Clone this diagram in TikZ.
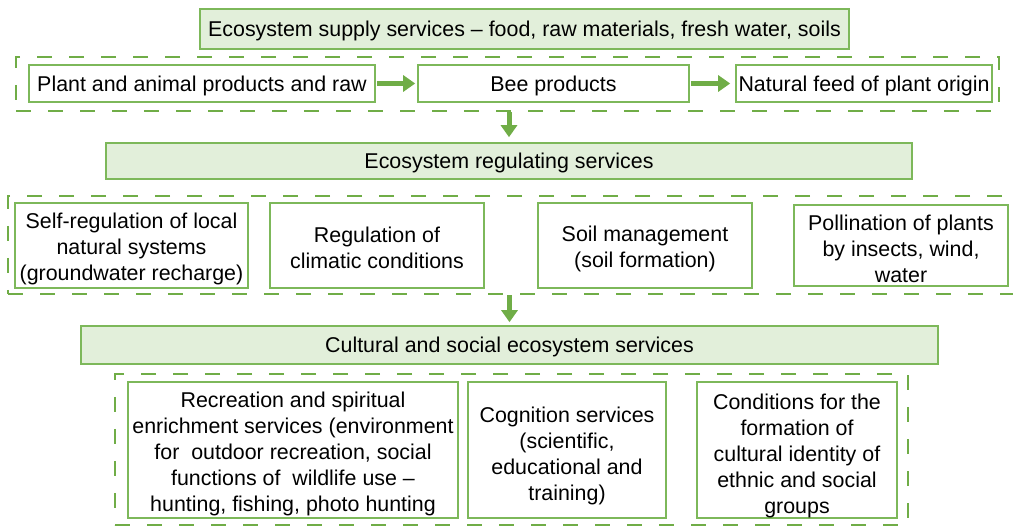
\documentclass[tikz,border=0pt]{standalone}
\usepackage{fontspec}
\setmainfont{Liberation Sans}
\usetikzlibrary{arrows.meta}
\definecolor{grn}{HTML}{70AD47}
\definecolor{grnline}{HTML}{7DB85A}
\definecolor{grnfill}{HTML}{E2EFDA}
\newcommand{\upstrut}[1]{\rule{0pt}{#1}}
\tikzset{
  every node/.style={font=\fontsize{21.4}{26}\selectfont, inner sep=0pt, align=center, text=black},
  hdr/.style={draw=grnline, fill=grnfill, line width=1.6pt},
  wbox/.style={draw=grnline, fill=white, line width=1.6pt},
  grp/.style={draw=grn, line width=2.6pt, dash pattern=on 15pt off 17pt},
  arr/.style={draw=grn, line width=5pt, -{Triangle[length=12pt,width=16pt]}},
}
\begin{document}
\begin{tikzpicture}[x=1pt,y=-1pt]
\useasboundingbox (0,0) rectangle (1013,526);
% supply
\node[hdr, minimum width=649pt, minimum height=40pt] (h1) at (524.5,29) {\upstrut{19.6pt}Ecosystem supply services -- food, raw materials, fresh water, soils};
\node[grp, minimum width=983pt, minimum height=54pt] (g1) at (507.5,84) {};
\node[wbox, minimum width=346pt, minimum height=37pt] (a) at (202,83.5) {\upstrut{19.6pt}Plant and animal products and raw};
\node[wbox, minimum width=271pt, minimum height=37pt] (b) at (553.5,83.5) {\upstrut{19.6pt}Bee products};
\node[wbox, minimum width=256pt, minimum height=37pt] (c) at (864,83.5) {\upstrut{19.6pt}Natural feed of plant origin};
\draw[arr, shorten <=1pt, shorten >=2pt] (a.east) -- (b.west);
\draw[arr, shorten <=1pt, shorten >=5pt] (b.east) -- (c.west);
% regulating
\node[hdr, minimum width=806pt, minimum height=36pt] (h2) at (509,161) {\upstrut{19.6pt}Ecosystem regulating services};
\draw[arr, shorten >=5pt] (g1.south -| h2.north) -- (h2.north);
\node[grp, minimum width=1008pt, minimum height=98pt] (g2) at (512,245) {};
\node[wbox, minimum width=233pt, minimum height=85pt] (r1) at (131.5,245.5) {\upstrut{21.6pt}Self-regulation of local\\natural systems\\(groundwater recharge)};
\node[wbox, minimum width=214pt, minimum height=85pt] (r2) at (377,245.5) {\upstrut{20.6pt}Regulation of\\climatic conditions};
\node[wbox, minimum width=214pt, minimum height=85pt] (r3) at (645,245.5) {\upstrut{21.6pt}Soil management\\(soil formation)};
\node[wbox, minimum width=214pt, minimum height=81pt] (r4) at (901,245.5) {\upstrut{21.6pt}Pollination of plants\\by insects, wind,\\water};
% cultural
\node[hdr, minimum width=857pt, minimum height=38pt] (h3) at (509.5,345) {\upstrut{19.6pt}Cultural and social ecosystem services};
\draw[arr, shorten >=3pt] (g2.south -| h3.north) -- (h3.north);
\node[grp, minimum width=793pt, minimum height=151pt] (g3) at (511.5,449.5) {};
\node[wbox, minimum width=330pt, minimum height=136pt] (c1) at (293,450) {\upstrut{23.6pt}Recreation and spiritual\\enrichment services (environment\\for\ \ outdoor recreation, social\\functions of\ \ wildlife use --\\hunting, fishing, photo hunting};
\node[wbox, minimum width=198pt, minimum height=136pt] (c2) at (567,450) {\upstrut{27.6pt}Cognition services\\(scientific,\\educational and\\training)};
\node[wbox, minimum width=200pt, minimum height=136pt] (c3) at (797,450) {\upstrut{27.6pt}Conditions for the\\formation of\\cultural identity of\\ethnic and social\\groups};
\end{tikzpicture}
\end{document}
